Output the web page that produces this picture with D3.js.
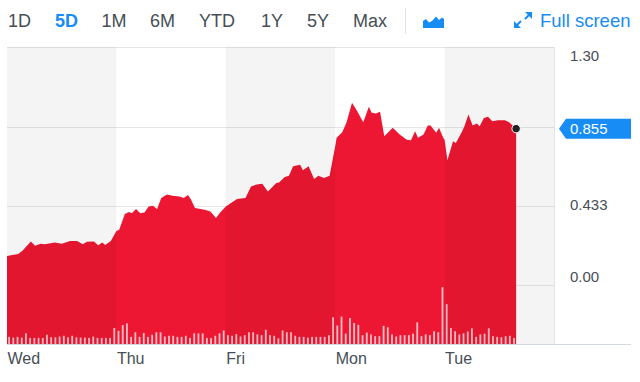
<!DOCTYPE html>
<html><head><meta charset="utf-8">
<script src="https://cdn.jsdelivr.net/npm/d3@7"></script>
<style>
html,body{margin:0;padding:0;background:#fff;}
svg{display:block;font-family:"Liberation Sans",Arial,Helvetica,sans-serif;}
</style>
</head><body>
<svg id="c" width="640" height="382"></svg>
<script>
// ---------------- DATA ----------------
const rangeButtons = ["1D","5D","1M","6M","YTD","1Y","5Y","Max"];
const activeRange = "5D";
const fullScreenLabel = "Full screen";
const days = ["Wed","Thu","Fri","Mon","Tue"];
const sessionMinutes = 390;           // 09:30 - 16:00
const volumeInterval = 15;            // minutes per volume bar
const yTickValues = [0, 0.433, 0.866, 1.30];
const yTickLabels = ["0.00","0.433","0.866","1.30"];
const lastPrice = 0.855;

// trading minutes since Wednesday open
const priceMinute = [0,40,55,85,100,120,135,170,195,225,250,270,285,310,325,340,350,370,
 390,400,420,435,445,460,475,490,505,520,535,550,570,590,615,630,645,655,670,705,725,745,760,
 780,820,850,870,890,910,930,960,970,990,1005,1020,1045,1055,1075,1095,1110,1130,1150,
 1170,1175,1195,1210,1230,1245,1270,1290,1300,1315,1330,1345,1375,1400,1425,1440,1455,1465,1485,1500,1510,1530,1540,1555,
 1560,1570,1590,1600,1620,1630,1645,1660,1675,1685,1700,1715,1730,1750,1775,1790,1815];
const priceValue = [0.159,0.170,0.188,0.238,0.214,0.225,0.223,0.232,0.225,0.241,0.241,0.223,0.236,0.238,0.218,0.232,0.219,0.241,
 0.296,0.302,0.388,0.399,0.393,0.415,0.393,0.397,0.430,0.433,0.415,0.476,0.495,0.488,0.484,0.476,0.492,0.470,0.421,0.411,0.402,0.366,0.397,
 0.430,0.470,0.476,0.539,0.549,0.554,0.512,0.558,0.561,0.591,0.598,0.649,0.658,0.627,0.649,0.580,0.598,0.585,0.598,
 0.759,0.805,0.835,0.887,0.997,0.960,0.890,0.975,0.942,0.938,0.947,0.813,0.860,0.823,0.795,0.792,0.841,0.805,0.823,0.872,0.872,0.832,0.860,0.806,
 0.795,0.682,0.786,0.777,0.832,0.865,0.933,0.872,0.883,0.868,0.914,0.920,0.896,0.901,0.901,0.890,0.855];

// 15-minute volume (thousand shares) per day
const volumeWed = [67,60,67,60,100,57,57,57,57,87,63,63,70,77,63,77,63,60,60,57,70,57,57,57,57,150];
const volumeThu = [123,177,193,67,110,67,103,67,87,110,110,70,77,77,67,67,77,57,100,100,100,57,57,77,100,127];
const volumeFri = [83,77,93,70,83,110,110,90,83,133,83,77,53,127,110,110,77,67,67,60,67,67,67,67,83,250];
const volumeMon = [173,257,97,243,197,180,83,107,90,73,73,170,157,90,70,83,83,83,97,203,73,90,83,120,110,533];
const volumeTue = [373,150,120,90,100,117,147,67,90,97,147,73,67,63,73,77,57];
const volumeByDay = [volumeWed, volumeThu, volumeFri, volumeMon, volumeTue];

// ---------------- LAYOUT ----------------
const plot = {left: 7, right: 554, top: 47.3, bottom: 344, zero: 285};
const axisLineRight = 631;
const textColor = "#464e56";
const blue = "#188cf5";
const red = "#ee1733";

const svg = d3.select("#c");

const x = d3.scaleLinear().domain([0, days.length * sessionMinutes]).range([plot.left, plot.right]);
const y = d3.scaleLinear().domain([0, 1.30]).range([plot.zero, plot.top]);
const vol = d3.scaleLinear().domain([0, 600]).range([0, 64]);

// gridlines (behind)
svg.append("g").selectAll("line").data(yTickValues).join("line")
  .attr("x1", plot.left).attr("x2", plot.right)
  .attr("y1", d => Math.round(y(d)) + 0.5).attr("y2", d => Math.round(y(d)) + 0.5)
  .attr("stroke", "#e6e6e6").attr("stroke-width", 1);

// price area
const pts = priceMinute.map((m, i) => ({m, v: priceValue[i]}));
const area = d3.area().x(d => x(d.m)).y0(plot.bottom).y1(d => y(d.v)).curve(d3.curveLinear);
svg.append("path").datum(pts).attr("d", area).attr("fill", red);

// volume bars
const volData = [];
volumeByDay.forEach((arr, di) => arr.forEach((v, k) => volData.push({t: di * sessionMinutes + k * volumeInterval + volumeInterval / 2, v})));
svg.append("g").selectAll("rect").data(volData).join("rect")
  .attr("x", d => x(d.t) - 0.9).attr("width", 1.8)
  .attr("y", d => plot.bottom - vol(d.v)).attr("height", d => vol(d.v))
  .attr("fill", "#fff").attr("fill-opacity", 0.72);

// alternating day bands (overlay shading)
svg.append("g").selectAll("rect").data(days.map((d, i) => i).filter(i => i % 2 === 0)).join("rect")
  .attr("x", i => x(i * sessionMinutes)).attr("width", i => x((i + 1) * sessionMinutes) - x(i * sessionMinutes))
  .attr("y", plot.top - 0.5).attr("height", plot.bottom - plot.top + 0.5)
  .attr("fill", "#000").attr("fill-opacity", 0.043);

// last price dot
const last = pts[pts.length - 1];
svg.append("circle").attr("cx", x(last.m)).attr("cy", y(last.v)).attr("r", 4.2)
  .attr("fill", "#222").attr("stroke", "#fff").attr("stroke-width", 1);

// axis lines
svg.append("line").attr("x1", plot.right + 0.5).attr("x2", plot.right + 0.5)
  .attr("y1", plot.top).attr("y2", plot.bottom).attr("stroke", "#e1e5ea");
svg.append("line").attr("x1", plot.left).attr("x2", axisLineRight)
  .attr("y1", plot.bottom + 0.5).attr("y2", plot.bottom + 0.5).attr("stroke", "#d3d9e0").attr("stroke-width", 1.2);

// x axis (day labels)
const xAxis = d3.axisBottom(x).tickValues(days.map((d, i) => i * sessionMinutes))
  .tickFormat((d, i) => days[i]).tickSize(0).tickPadding(0);
const gx = svg.append("g").attr("transform", `translate(0,${plot.bottom})`).call(xAxis);
gx.select(".domain").remove();
gx.selectAll("text").attr("text-anchor", "start").attr("y", 20).attr("dy", 0)
  .attr("fill", textColor).style("font-size", "16px").style("font-family", "Liberation Sans, Arial, sans-serif");

// y axis (right labels)
const labelDy = {"1.30": 8, "0.866": 0, "0.433": -1, "0.00": -9};
const yAxis = d3.axisRight(y).tickValues(yTickValues)
  .tickFormat((d, i) => yTickLabels[i]).tickSize(0).tickPadding(16);
const gy = svg.append("g").attr("transform", `translate(${plot.right},0)`).call(yAxis);
gy.select(".domain").remove();
gy.selectAll(".tick").filter(d => Math.abs(y(d) - y(lastPrice)) < 12).remove();
gy.selectAll("text").attr("fill", textColor).style("font-size", "15px")
  .style("font-family", "Liberation Sans, Arial, sans-serif")
  .attr("dy", function() { return (labelDy[this.textContent] + 5) + "px"; });

// last price marker
const my = y(lastPrice);
svg.append("path")
  .attr("d", `M559,${my} L566,${my - 10} L631,${my - 10} L631,${my + 10} L566,${my + 10} Z`)
  .attr("fill", blue);
svg.append("text").attr("x", 570).attr("y", my + 5.5).text(d3.format(".3f")(lastPrice))
  .attr("fill", "#fff").style("font-size", "15px");

// ---------------- TOOLBAR ----------------
const btnX = [8, 55, 101.5, 150, 199, 261, 307, 353];
svg.append("g").selectAll("text").data(rangeButtons).join("text")
  .attr("x", (d, i) => btnX[i]).attr("y", 27)
  .text(d => d)
  .attr("fill", d => d === activeRange ? blue : textColor)
  .style("font-weight", d => d === activeRange ? "bold" : "normal")
  .style("font-size", "18px");
svg.append("line").attr("x1", 405.5).attr("x2", 405.5).attr("y1", 8).attr("y2", 34).attr("stroke", "#e3e3e3");
// chart-type icon
svg.append("path")
  .attr("d", "M423,28 L423,21 L426,19 L429,22.5 L432,21 L436,16.5 L439,20 L442,17.5 L444,19 L444,28 Z")
  .attr("fill", blue);
// full screen icon
const fs = svg.append("g").attr("stroke", blue).attr("stroke-width", 2).attr("fill", "none");
fs.append("line").attr("x1", 525).attr("y1", 19).attr("x2", 530).attr("y2", 14);
fs.append("line").attr("x1", 521).attr("y1", 21).attr("x2", 516).attr("y2", 26);
svg.append("path").attr("d", "M532,12 L532,19 L525,12 Z").attr("fill", blue);
svg.append("path").attr("d", "M514,28 L514,21 L521,28 Z").attr("fill", blue);
svg.append("text").attr("x", 540).attr("y", 27).text(fullScreenLabel)
  .attr("fill", blue).style("font-size", "18.5px");
</script>
</body></html>
